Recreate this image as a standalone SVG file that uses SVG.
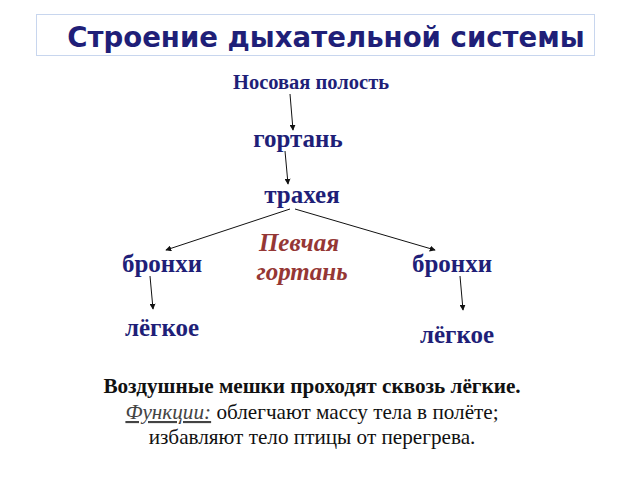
<svg xmlns="http://www.w3.org/2000/svg" width="640" height="480" viewBox="0 0 640 480">
<defs>
<style>
.n{font-family:"Liberation Serif","Times New Roman",serif;font-weight:bold;fill:#1f1f78;text-anchor:middle;font-size:25px}
.r{font-family:"Liberation Serif","Times New Roman",serif;font-weight:bold;font-style:italic;fill:#953735;text-anchor:middle;font-size:25px}
.b{font-family:"Liberation Serif","Times New Roman",serif;fill:#111;text-anchor:middle;font-size:21.2px}
.c{stroke:#111;stroke-width:1;fill:none;marker-end:url(#a)}
</style>
<marker id="a" viewBox="0 0 8 8" refX="7" refY="4" markerWidth="6" markerHeight="6" orient="auto" markerUnits="userSpaceOnUse"><path d="M0,0 L8,4 L0,8 z" fill="#111"/></marker>
</defs>
<rect width="640" height="480" fill="#fff"/>
<g id="title">
<rect x="36.500" y="14.500" width="558" height="41" fill="#fff" stroke="#c8d6ee" stroke-width="1"/>
<text x="326" y="47" font-family="DejaVu Sans, Verdana, sans-serif" font-weight="bold" font-size="27.600" fill="#1f1f78" text-anchor="middle">Строение дыхательной системы</text>
</g>
<g id="nose"><text class="n" x="311" y="89" font-size="20.500" style="font-size:20.5px">Носовая полость</text></g>
<g id="larynx"><text class="n" x="298" y="147">гортань</text></g>
<g id="trachea"><text class="n" x="302" y="203">трахея</text></g>
<g id="bronchiL"><text class="n" x="162" y="272">бронхи</text></g>
<g id="bronchiR"><text class="n" x="452" y="272">бронхи</text></g>
<g id="syrinx"><text class="r" x="299" y="251">Певчая</text><text class="r" x="302" y="280">гортань</text></g>
<g id="lungL"><text class="n" x="162" y="336">лёгкое</text></g>
<g id="lungR"><text class="n" x="457" y="343">лёгкое</text></g>
<g id="connectors">
<line class="c" x1="290" y1="94" x2="293" y2="130"/>
<line class="c" x1="285" y1="151" x2="288" y2="184"/>
<line class="c" x1="290" y1="209" x2="166" y2="250"/>
<line class="c" x1="295" y1="209" x2="435" y2="250"/>
<line class="c" x1="150" y1="276" x2="153" y2="309"/>
<line class="c" x1="460" y1="276" x2="463" y2="310"/>
</g>
<g id="note">
<text class="b" x="312" y="393" font-weight="bold">Воздушные мешки проходят сквозь лёгкие.</text>
<text class="b" x="312" y="419"><tspan font-style="italic" text-decoration="underline" fill="#444">Функции:</tspan> облегчают массу тела в полёте;</text>
<text class="b" x="312" y="444">избавляют тело птицы от перегрева.</text>
</g>
</svg>
